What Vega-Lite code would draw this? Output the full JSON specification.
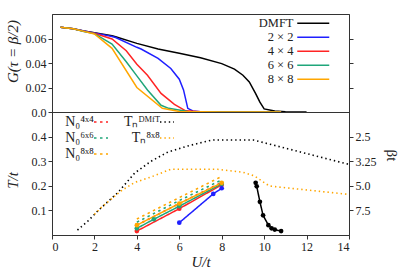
{
  "$schema": "https://vega.github.io/schema/vega-lite/v6.json",
  "padding": {"left": 4, "top": 13, "right": 4, "bottom": 2},
  "bounds": "flush",
  "datasets": {
    "G": [
      {"s": "DMFT", "U": 0.4, "G": 0.0691}, {"s": "DMFT", "U": 1, "G": 0.068}, {"s": "DMFT", "U": 1.5, "G": 0.0662}, {"s": "DMFT", "U": 2, "G": 0.0648}, {"s": "DMFT", "U": 2.83, "G": 0.0623}, {"s": "DMFT", "U": 3, "G": 0.0615}, {"s": "DMFT", "U": 4, "G": 0.056}, {"s": "DMFT", "U": 5, "G": 0.0515}, {"s": "DMFT", "U": 6, "G": 0.048}, {"s": "DMFT", "U": 7, "G": 0.0443}, {"s": "DMFT", "U": 8, "G": 0.0395}, {"s": "DMFT", "U": 8.6, "G": 0.035}, {"s": "DMFT", "U": 9, "G": 0.03}, {"s": "DMFT", "U": 9.3, "G": 0.0245}, {"s": "DMFT", "U": 9.6, "G": 0.015}, {"s": "DMFT", "U": 9.8, "G": 0.008}, {"s": "DMFT", "U": 10, "G": 0.0025}, {"s": "DMFT", "U": 10.5, "G": 0.0008}, {"s": "DMFT", "U": 11, "G": 0.0003}, {"s": "DMFT", "U": 12, "G": 0.0},
      {"s": "2 × 2", "U": 0.4, "G": 0.0691}, {"s": "2 × 2", "U": 1, "G": 0.068}, {"s": "2 × 2", "U": 1.5, "G": 0.0662}, {"s": "2 × 2", "U": 2, "G": 0.0646}, {"s": "2 × 2", "U": 2.83, "G": 0.0617}, {"s": "2 × 2", "U": 3, "G": 0.0608}, {"s": "2 × 2", "U": 4, "G": 0.0528}, {"s": "2 × 2", "U": 4.2, "G": 0.0514}, {"s": "2 × 2", "U": 5, "G": 0.0437}, {"s": "2 × 2", "U": 5.6, "G": 0.0355}, {"s": "2 × 2", "U": 6, "G": 0.0268}, {"s": "2 × 2", "U": 6.2, "G": 0.018}, {"s": "2 × 2", "U": 6.4, "G": 0.003}, {"s": "2 × 2", "U": 6.64, "G": 0.0008}, {"s": "2 × 2", "U": 7, "G": 0.0003}, {"s": "2 × 2", "U": 8, "G": 0.0001}, {"s": "2 × 2", "U": 10.8, "G": 0.0},
      {"s": "4 × 4", "U": 0.4, "G": 0.0691}, {"s": "4 × 4", "U": 1, "G": 0.068}, {"s": "4 × 4", "U": 1.5, "G": 0.066}, {"s": "4 × 4", "U": 2, "G": 0.0643}, {"s": "4 × 4", "U": 2.83, "G": 0.0596}, {"s": "4 × 4", "U": 3.5, "G": 0.05}, {"s": "4 × 4", "U": 4, "G": 0.039}, {"s": "4 × 4", "U": 4.5, "G": 0.03}, {"s": "4 × 4", "U": 5.14, "G": 0.0152}, {"s": "4 × 4", "U": 5.77, "G": 0.0063}, {"s": "4 × 4", "U": 6.3, "G": 0.001}, {"s": "4 × 4", "U": 7, "G": 0.0003}, {"s": "4 × 4", "U": 10.8, "G": 0.0},
      {"s": "6 × 6", "U": 0.4, "G": 0.0691}, {"s": "6 × 6", "U": 1, "G": 0.068}, {"s": "6 × 6", "U": 1.5, "G": 0.0658}, {"s": "6 × 6", "U": 2, "G": 0.064}, {"s": "6 × 6", "U": 2.83, "G": 0.0555}, {"s": "6 × 6", "U": 3.5, "G": 0.041}, {"s": "6 × 6", "U": 4, "G": 0.0295}, {"s": "6 × 6", "U": 4.5, "G": 0.018}, {"s": "6 × 6", "U": 5.14, "G": 0.0055}, {"s": "6 × 6", "U": 5.5, "G": 0.003}, {"s": "6 × 6", "U": 6.4, "G": 0.0005}, {"s": "6 × 6", "U": 8, "G": 0.0001}, {"s": "6 × 6", "U": 10.8, "G": 0.0},
      {"s": "8 × 8", "U": 0.4, "G": 0.0691}, {"s": "8 × 8", "U": 1, "G": 0.068}, {"s": "8 × 8", "U": 1.5, "G": 0.0658}, {"s": "8 × 8", "U": 2, "G": 0.0637}, {"s": "8 × 8", "U": 2.83, "G": 0.052}, {"s": "8 × 8", "U": 4, "G": 0.02}, {"s": "8 × 8", "U": 5.2, "G": 0.003}, {"s": "8 × 8", "U": 6, "G": 0.0005}, {"s": "8 × 8", "U": 8, "G": 0.0001}, {"s": "8 × 8", "U": 10.8, "G": 0.0}
    ],
    "TN": [
      {"s": "Tₙᴰᴹᶠᵀ", "U": 1.2, "T": 0.02}, {"s": "Tₙᴰᴹᶠᵀ", "U": 1.7, "T": 0.057}, {"s": "Tₙᴰᴹᶠᵀ", "U": 2.16, "T": 0.098}, {"s": "Tₙᴰᴹᶠᵀ", "U": 3.1, "T": 0.172}, {"s": "Tₙᴰᴹᶠᵀ", "U": 3.9, "T": 0.252}, {"s": "Tₙᴰᴹᶠᵀ", "U": 4.67, "T": 0.3}, {"s": "Tₙᴰᴹᶠᵀ", "U": 5.46, "T": 0.337}, {"s": "Tₙᴰᴹᶠᵀ", "U": 6.4, "T": 0.362}, {"s": "Tₙᴰᴹᶠᵀ", "U": 7.34, "T": 0.382}, {"s": "Tₙᴰᴹᶠᵀ", "U": 7.6, "T": 0.386}, {"s": "Tₙᴰᴹᶠᵀ", "U": 9.5, "T": 0.386}, {"s": "Tₙᴰᴹᶠᵀ", "U": 14, "T": 0.287},
      {"s": "Tₙ⁸ˣ⁸", "U": 2.0, "T": 0.084}, {"s": "Tₙ⁸ˣ⁸", "U": 2.31, "T": 0.111}, {"s": "Tₙ⁸ˣ⁸", "U": 3.25, "T": 0.179}, {"s": "Tₙ⁸ˣ⁸", "U": 3.88, "T": 0.213}, {"s": "Tₙ⁸ˣ⁸", "U": 4.67, "T": 0.236}, {"s": "Tₙ⁸ˣ⁸", "U": 5.6, "T": 0.267}, {"s": "Tₙ⁸ˣ⁸", "U": 7.8, "T": 0.267}, {"s": "Tₙ⁸ˣ⁸", "U": 9.0, "T": 0.255}, {"s": "Tₙ⁸ˣ⁸", "U": 9.54, "T": 0.24}, {"s": "Tₙ⁸ˣ⁸", "U": 10.25, "T": 0.199}, {"s": "Tₙ⁸ˣ⁸", "U": 14, "T": 0.165},
      {"s": "N₀⁴ˣ⁴", "U": 4, "T": 0.04}, {"s": "N₀⁴ˣ⁴", "U": 6, "T": 0.128}, {"s": "N₀⁴ˣ⁴", "U": 8, "T": 0.214},
      {"s": "N₀⁶ˣ⁶", "U": 4, "T": 0.052}, {"s": "N₀⁶ˣ⁶", "U": 6, "T": 0.14}, {"s": "N₀⁶ˣ⁶", "U": 8, "T": 0.224},
      {"s": "N₀⁸ˣ⁸", "U": 4, "T": 0.065}, {"s": "N₀⁸ˣ⁸", "U": 6, "T": 0.152}, {"s": "N₀⁸ˣ⁸", "U": 8, "T": 0.238}
    ],
    "pts": [
      {"s": "4 × 4", "U": 4, "T": 0.016}, {"s": "4 × 4", "U": 6, "T": 0.107}, {"s": "4 × 4", "U": 8, "T": 0.204},
      {"s": "6 × 6", "U": 4, "T": 0.027}, {"s": "6 × 6", "U": 4.8, "T": 0.064}, {"s": "6 × 6", "U": 6, "T": 0.117}, {"s": "6 × 6", "U": 8, "T": 0.208},
      {"s": "8 × 8", "U": 4, "T": 0.04}, {"s": "8 × 8", "U": 6, "T": 0.128}, {"s": "8 × 8", "U": 8, "T": 0.212},
      {"s": "2 × 2", "U": 6, "T": 0.05}, {"s": "2 × 2", "U": 7.6, "T": 0.167}, {"s": "2 × 2", "U": 8, "T": 0.19},
      {"s": "DMFT", "U": 9.6, "T": 0.212}, {"s": "DMFT", "U": 9.65, "T": 0.198}, {"s": "DMFT", "U": 9.8, "T": 0.135}, {"s": "DMFT", "U": 9.95, "T": 0.08}, {"s": "DMFT", "U": 10.2, "T": 0.04}, {"s": "DMFT", "U": 10.35, "T": 0.027}, {"s": "DMFT", "U": 10.5, "T": 0.022}, {"s": "DMFT", "U": 10.8, "T": 0.016}
    ]
  },
  "config": {
    "font": "Liberation Serif",
    "view": {"stroke": "#333", "strokeWidth": 1},
    "concat": {"spacing": 0},
    "axis": {
      "labelFont": "Liberation Serif", "labelFontSize": 12, "labelColor": "#222",
      "titleFont": "Liberation Serif", "titleFontSize": 15, "titleFontWeight": "normal", "titleColor": "#222",
      "domainColor": "#333", "tickColor": "#333", "tickSize": 4, "grid": false, "labelPadding": 2
    },
    "legend": {
      "labelFont": "Liberation Serif", "labelFontSize": 12.5, "labelColor": "#222",
      "symbolStrokeWidth": 1.5
    }
  },
  "resolve": {"scale": {"color": "independent", "strokeDash": "independent"}, "legend": {"color": "independent", "strokeDash": "independent"}},
  "vconcat": [
    {
      "width": 297, "height": 98,
      "layer": [
        {
          "data": {"name": "G"},
          "mark": {"type": "line", "strokeWidth": 1.5},
          "encoding": {
            "x": {"field": "U", "type": "quantitative", "scale": {"domain": [0, 14]}, "axis": null},
            "y": {"field": "G", "type": "quantitative", "scale": {"domain": [0, 0.08]}, "axis": {"title": "G(τ = β/2)", "titleFontStyle": "italic", "titleY": 37, "titlePadding": 5, "values": [0, 0.02, 0.04, 0.06], "labelExpr": "datum.value == 0 ? '0.0' : format(datum.value, '.2f')"}},
            "color": {"field": "s", "type": "nominal", "sort": null,
              "scale": {"domain": ["DMFT", "2 × 2", "4 × 4", "6 × 6", "8 × 8"], "range": ["#000000", "#1f1fff", "#ff2424", "#1fa67a", "#ffa600"]},
              "legend": {"title": null, "orient": "none", "legendX": 255, "legendY": 3, "symbolType": "M-3.2,0H3.2", "symbolSize": 100, "rowPadding": 1, "labelAlign": "right", "labelOffset": -26}}
          }
        },
        {
          "data": {"name": "G"},
          "mark": {"type": "line", "opacity": 0},
          "encoding": {
            "x": {"field": "U", "type": "quantitative"},
            "y": {"field": "G", "type": "quantitative", "axis": {"orient": "right", "labels": false, "title": null, "values": [0.02, 0.04, 0.06]}}
          }
        }
      ],
      "resolve": {"axis": {"y": "independent"}}
    },
    {
      "width": 297, "height": 123,
      "layer": [
        {
          "data": {"name": "TN"},
          "mark": {"type": "line", "strokeWidth": 1.6},
          "encoding": {
            "x": {"field": "U", "type": "quantitative", "scale": {"domain": [0, 14]}, "axis": {"title": "U/t", "titleFontStyle": "italic", "values": [0, 2, 4, 6, 8, 10, 12, 14], "format": "d", "titlePadding": 2}},
            "y": {"field": "T", "type": "quantitative", "scale": {"domain": [0, 0.5]}, "axis": {"title": "T/t", "titleFontStyle": "italic", "titleY": 68, "titlePadding": 11, "values": [0.1, 0.2, 0.3, 0.4], "format": ".1f"}},
            "color": {"field": "s", "type": "nominal",
              "scale": {"domain": ["N₀⁴ˣ⁴", "N₀⁶ˣ⁶", "N₀⁸ˣ⁸", "Tₙᴰᴹᶠᵀ", "Tₙ⁸ˣ⁸", "DMFT", "2 × 2", "4 × 4", "6 × 6", "8 × 8"], "range": ["#ff2424", "#1fa67a", "#ffa600", "#000000", "#ffa600", "#000000", "#1f1fff", "#ff2424", "#1fa67a", "#ffa600"]},
              "legend": {"title": null, "values": ["N₀⁴ˣ⁴", "N₀⁶ˣ⁶", "N₀⁸ˣ⁸", "Tₙᴰᴹᶠᵀ", "Tₙ⁸ˣ⁸"], "orient": "none", "legendX": 42, "legendY": 3, "columns": 2, "symbolType": "M-1.75,0H1.75", "symbolSize": 64, "rowPadding": 2, "labelFontSize": 14, "labelAlign": "right", "labelOffset": -14, "columnPadding": 12}},
            "strokeDash": {"field": "s", "type": "nominal",
              "scale": {"domain": ["N₀⁴ˣ⁴", "N₀⁶ˣ⁶", "N₀⁸ˣ⁸", "Tₙᴰᴹᶠᵀ", "Tₙ⁸ˣ⁸", "DMFT", "2 × 2", "4 × 4", "6 × 6", "8 × 8"], "range": [[2.5, 3.5], [2.5, 3.5], [2.5, 3.5], [1.4, 3], [1.4, 3], [1, 0], [1, 0], [1, 0], [1, 0], [1, 0]]},
              "legend": {"title": null, "values": ["N₀⁴ˣ⁴", "N₀⁶ˣ⁶", "N₀⁸ˣ⁸", "Tₙᴰᴹᶠᵀ", "Tₙ⁸ˣ⁸"], "orient": "none", "legendX": 42, "legendY": 3, "columns": 2, "symbolType": "M-1.75,0H1.75", "symbolSize": 64, "rowPadding": 2, "labelFontSize": 14, "labelAlign": "right", "labelOffset": -14, "columnPadding": 12}}
          }
        },
        {
          "data": {"name": "pts"},
          "mark": {"type": "line", "strokeWidth": 1.5, "point": {"filled": true, "size": 22}},
          "encoding": {
            "x": {"field": "U", "type": "quantitative"},
            "y": {"field": "T", "type": "quantitative", "axis": null},
            "color": {"field": "s", "type": "nominal"},
            "strokeDash": {"field": "s", "type": "nominal"}
          }
        },
        {
          "data": {"name": "pts"},
          "mark": {"type": "line", "opacity": 0},
          "encoding": {
            "x": {"field": "U", "type": "quantitative"},
            "y": {"field": "T", "type": "quantitative", "axis": {"orient": "right", "title": "βt", "titleAngle": 90, "titleY": 43, "titlePadding": 7, "values": [0.1, 0.2, 0.3, 0.4], "labelExpr": "datum.value == 0.4 ? '2.5' : datum.value == 0.3 ? '3.25' : datum.value == 0.2 ? '5.0' : '7.5'"}}
          }
        }
      ],
      "resolve": {"axis": {"y": "independent"}}
    }
  ]
}
